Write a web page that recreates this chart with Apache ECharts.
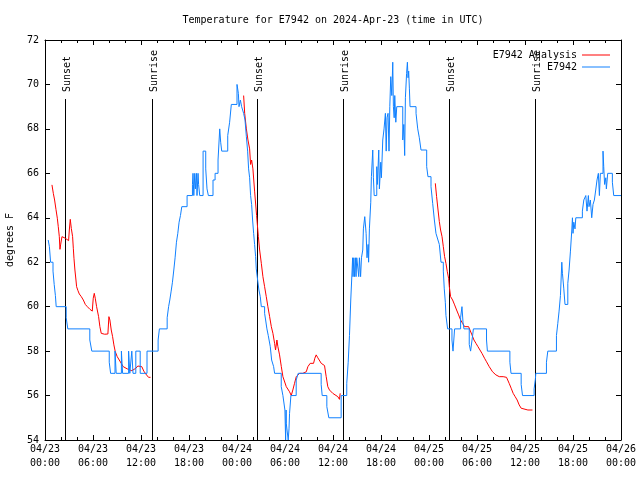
<!DOCTYPE html>
<html><head><meta charset="utf-8">
<script src="https://cdn.jsdelivr.net/npm/echarts@6/dist/echarts.min.js"></script>
<style>html,body{margin:0;padding:0;background:#fff}#c{width:640px;height:480px}</style>
</head><body><div id="c"></div>
<script>
const FONT = 'DejaVu Sans Mono';
const titleText = 'Temperature for E7942 on 2024-Apr-23 (time in UTC)';
const xTickLabels = ['04/23\n00:00','04/23\n06:00','04/23\n12:00','04/23\n18:00','04/24\n00:00','04/24\n06:00','04/24\n12:00','04/24\n18:00','04/25\n00:00','04/25\n06:00','04/25\n12:00','04/25\n18:00','04/26\n00:00'];
// hours since 04/23 00:00 UTC
const sunEventTimes = [2.53, 13.39, 26.5, 37.2, 50.45, 61.2];
const sunEventLabels = ['Sunset','Sunrise','Sunset','Sunrise','Sunset','Sunrise'];

// E7942 Analysis (red), [hour, degF]
const analysisDay1 = [[0.87,65.48],[1.04,65.1],[1.2,64.8],[1.37,64.38],[1.54,63.98],[1.66,63.6],[1.79,63.15],[1.87,62.58],[1.95,62.78],[2.12,63.15],[2.2,63.2],[2.37,63.15],[2.54,63.08],[2.79,63.0],[2.95,62.97],[3.04,63.45],[3.16,63.93],[3.29,63.52],[3.45,63.15],[3.54,62.63],[3.62,62.18],[3.74,61.65],[3.87,61.2],[3.95,60.9],[4.12,60.72],[4.29,60.57],[4.54,60.45],[4.79,60.3],[5.04,60.1],[5.29,60.0],[5.62,59.88],[5.91,59.8],[6.03,60.38],[6.16,60.6],[6.28,60.38],[6.45,60.0],[6.7,59.55],[6.86,59.1],[7.03,58.8],[7.2,58.73],[7.45,58.76],[7.86,58.77],[7.99,59.55],[8.11,59.4],[8.28,58.95],[8.45,58.65],[8.61,58.28],[8.78,57.98],[9.03,57.75],[9.28,57.6],[9.53,57.45],[9.78,57.3],[10.03,57.23],[10.28,57.2],[10.6,57.15],[10.86,57.12],[11.1,57.15],[11.36,57.23],[11.6,57.33],[11.85,57.42],[12.1,57.3],[12.35,57.1],[12.6,56.97],[12.77,56.88],[12.94,56.82],[13.19,56.82]];
const analysisDay2 = [[24.83,69.5],[24.96,68.7],[25.17,68.0],[25.37,67.5],[25.58,67.1],[25.7,66.4],[25.83,66.6],[25.99,66.2],[26.2,65.2],[26.45,64.1],[26.67,63.15],[26.83,62.55],[27.04,61.95],[27.24,61.35],[27.45,60.9],[27.66,60.45],[27.86,60.0],[28.08,59.55],[28.29,59.1],[28.49,58.8],[28.7,58.35],[28.82,58.05],[28.99,58.5],[29.11,58.2],[29.32,57.83],[29.54,57.3],[29.74,56.85],[30.16,56.4],[30.57,56.17],[30.78,56.0],[30.98,56.25],[31.19,56.55],[31.41,56.85],[31.61,56.9],[31.82,57.0],[32.23,57.0],[32.66,57.07],[32.86,57.3],[33.15,57.45],[33.57,57.45],[33.73,57.68],[33.9,57.83],[34.1,57.7],[34.53,57.45],[34.94,57.35],[35.15,56.85],[35.35,56.4],[35.56,56.25],[35.97,56.1],[36.6,55.95],[36.81,55.83],[36.9,56.1]];
const analysisDay3 = [[48.79,65.55],[48.95,64.95],[49.13,64.35],[49.29,63.83],[49.45,63.45],[49.63,63.15],[49.79,62.7],[49.95,62.25],[50.12,61.95],[50.29,61.57],[50.45,61.28],[50.54,60.9],[50.7,60.45],[50.95,60.3],[51.2,60.08],[51.45,59.85],[51.7,59.63],[51.95,59.4],[52.2,59.25],[52.45,59.1],[52.7,59.02],[52.95,59.1],[53.12,58.95],[53.37,58.73],[53.62,58.5],[53.87,58.35],[54.12,58.2],[54.37,58.05],[54.62,57.9],[54.94,57.68],[55.19,57.52],[55.53,57.3],[55.94,57.07],[56.36,56.93],[56.78,56.85],[57.27,56.85],[57.69,56.82],[57.87,56.78],[58.02,56.55],[58.27,56.33],[58.52,56.1],[58.77,55.95],[59.02,55.8],[59.27,55.58],[59.52,55.43],[59.77,55.4],[60.36,55.35],[60.93,55.35]];

// E7942 observations (blue), [hour, degF], value holds until next point
const observedDay1 = [[0.4,63],[0.55,62.7],[0.7,62],[1.0,61.6],[1.15,61.0],[1.3,60.5],[1.4,60],[2.65,59.5],[2.85,59],[5.6,58.5],[5.85,58],[8.03,57.5],[8.2,57],[8.75,58],[8.9,57],[9.55,58],[9.7,57],[10.45,58],[10.6,57],[10.85,58],[11.0,57],[11.35,58],[11.9,57],[12.75,58],[14.14,58.5],[14.3,59],[15.27,59.5],[15.45,60],[15.6,60.3],[15.77,60.7],[15.93,61.1],[16.1,61.65],[16.26,62.2],[16.43,62.9],[16.6,63.3],[16.76,63.8],[16.93,64.1],[17.1,64.5],[17.76,65],[18.43,65.5],[18.5,66],[18.6,65],[18.72,66],[18.8,65.3],[18.93,66],[19.0,65],[19.13,66],[19.2,65.5],[19.34,65],[19.76,67],[20.09,66.2],[20.25,65.3],[20.42,65],[21.0,65.7],[21.26,66],[21.63,66.6],[21.84,68],[21.96,67.4],[22.09,67],[22.84,67.7],[23.08,68.3],[23.29,69.1],[24.0,70],[24.17,69.6],[24.25,69],[24.42,69.3],[24.58,69],[24.83,68.7],[25.0,68.4],[25.17,67.65],[25.33,67],[25.45,66.2]];
const observedDay2 = [[25.58,65.8],[25.7,65],[25.83,64.6],[25.95,63.9],[26.08,63.3],[26.2,62.8],[26.33,62.25],[26.41,61.7],[26.58,61.2],[26.74,60.75],[26.91,60.45],[27.04,60],[27.45,59.7],[27.58,59.4],[27.74,59],[27.91,58.7],[28.16,58.2],[28.33,57.6],[28.58,57.3],[28.7,57],[29.53,56.4],[29.74,56],[29.99,55.35],[30.08,54],[30.14,55.35],[30.16,54.75],[30.4,54],[30.5,54.5],[30.57,55.2],[30.74,56],[31.4,56.7],[31.65,57],[34.52,56.5],[34.65,56],[35.23,55.5],[35.48,55],[37.02,56],[37.72,56.55],[37.9,57.5],[38.06,58.7],[38.22,60.3],[38.39,61.65],[38.45,62.2],[38.5,61.35],[38.6,62.2],[38.68,61.35],[38.8,62.2],[38.88,61.35],[38.97,62.2],[39.22,61.35],[39.3,62.2],[39.45,61.35],[39.56,62.2],[39.72,62.55],[39.8,63.5],[39.97,64.05],[40.14,63.3],[40.25,62.2],[40.39,62.8],[40.45,62.0],[40.55,63.5],[40.72,64.7],[40.8,65.85],[40.97,67.05],[41.05,65.8],[41.15,65.0],[41.47,66.3],[41.55,65.5],[41.72,67.05],[41.8,65.3],[41.97,66.5],[42.05,65.8],[42.22,67.5],[42.38,68],[42.55,68.7],[42.65,67.0],[42.75,68.5],[42.88,68.7],[43.0,67.0],[43.1,69.0],[43.22,70.35],[43.35,69.5],[43.47,71.0],[43.55,69.0],[43.65,68.5],[43.72,69.5],[43.85,68.3],[43.97,69.0],[44.72,67.5],[44.85,68.2],[44.96,66.8],[45.05,69.4],[45.2,70.5],[45.3,71.0],[45.38,70.3],[45.46,70.6],[45.55,69.8],[45.63,69.0],[46.38,68.7],[46.59,68.0],[46.79,67.6],[47.0,67.05],[47.71,66.3],[47.87,65.85],[48.25,65.4],[48.46,64.65],[48.67,63.9],[48.87,63.3],[49.12,63.0]];
const observedDay3 = [[49.29,62.8],[49.5,62.0],[49.79,61.6],[49.91,60.8],[50.04,60.2],[50.12,59.6],[50.33,59.0],[50.87,58.5],[51.0,58],[51.2,59],[51.95,59.5],[52.12,60],[52.25,59.3],[52.37,59],[53.03,58.3],[53.2,58],[53.45,58.7],[53.55,59],[55.19,58.5],[55.3,58],[58.11,57.5],[58.25,57],[59.52,56.5],[59.69,56],[61.14,56.3],[61.3,56.75],[61.35,57],[62.68,57.5],[62.85,58],[63.93,58.7],[64.1,59.25],[64.26,59.8],[64.43,60.5],[64.6,62.0],[64.68,61.5],[64.85,60.8],[65.0,60.1],[65.35,61.05],[65.51,61.65],[65.68,62.5],[65.85,63.45],[65.93,64],[66.0,63.3],[66.1,63.8],[66.25,63.5],[66.35,64],[67.17,64.3],[67.35,64.8],[67.6,65],[67.75,64.3],[67.92,65],[68.0,64.5],[68.17,64.8],[68.34,64],[68.5,64.6],[68.67,64.8],[68.84,65.25],[69.0,65.7],[69.17,66],[69.3,65],[69.42,66],[69.75,67],[69.84,66.3],[69.95,65.5],[70.1,65.8],[70.17,65.3],[70.34,66],[70.92,65.6],[71.09,65],[72,65]];

const RED = '#ff0000', BLUE = '#1080ff';
const txt = {fontFamily: FONT, fontSize: 10, color: '#000'};

function xAxisCfg(top) {
  return {
    type: 'value', min: 0, max: 72, interval: 6, position: top ? 'top' : 'bottom',
    axisLine: {show: true, onZero: false, lineStyle: {color: '#000', width: 1}},
    axisTick: {show: true, inside: true, length: 5, lineStyle: {color: '#000'}},
    minorTick: {show: true, splitNumber: 3, length: 3, lineStyle: {color: '#000'}},
    splitLine: {show: false},
    axisLabel: top ? {show: false} : Object.assign({formatter: v => xTickLabels[Math.round(v / 6)], margin: 2, lineHeight: 14}, txt)
  };
}
function yAxisCfg(right) {
  return {
    type: 'value', min: 54, max: 72, interval: 2, position: right ? 'right' : 'left',
    axisLine: {show: true, onZero: false, lineStyle: {color: '#000', width: 1}},
    axisTick: {show: true, inside: true, length: 5, lineStyle: {color: '#000'}},
    splitLine: {show: false},
    name: right ? '' : 'degrees F', nameLocation: 'middle', nameRotate: 90, nameGap: 30,
    nameTextStyle: txt,
    axisLabel: right ? {show: false} : Object.assign({margin: 6}, txt)
  };
}
function redSeries(d) {
  return {type: 'line', name: 'E7942 Analysis', data: d, symbol: 'none', animation: false,
    lineStyle: {color: RED, width: 1}, itemStyle: {color: RED}, z: 3};
}
const legendBase = {orient: 'vertical', right: 30, align: 'right', icon: 'rect', itemWidth: 28, itemHeight: 1,
  padding: 0, itemGap: 0, textStyle: txt, selectedMode: false};

const option = {
  backgroundColor: '#fff',
  animation: false,
  title: {text: titleText, left: 333, top: 15, textAlign: 'center', padding: 0,
    textStyle: {fontFamily: FONT, fontSize: 10, fontWeight: 'normal', color: '#000'}},
  legend: [
    Object.assign({data: ['E7942 Analysis'], top: 50}, legendBase),
    Object.assign({data: ['E7942'], top: 62}, legendBase)
  ],
  grid: {left: 45, right: 19, top: 40, bottom: 40, containLabel: false, outerBoundsMode: 'none'},
  xAxis: [xAxisCfg(false), xAxisCfg(true)],
  yAxis: [yAxisCfg(false), yAxisCfg(true)],
  series: [
    {type: 'custom', name: 'sun', data: sunEventTimes.map(t => [t, 54]), z: 1, silent: true,
      renderItem: function (params, api) {
        const p = api.coord([api.value(0), 54]);
        const cs = params.coordSys;
        const x = Math.round(p[0]) + 0.5;
        const topY = cs.y + 59;
        return {type: 'group', children: [
          {type: 'line', shape: {x1: x, y1: topY, x2: x, y2: cs.y + cs.height}, style: {stroke: '#000', lineWidth: 1}},
          {type: 'text', x: x + 1.5, y: topY - 7, rotation: Math.PI / 2,
            style: {text: sunEventLabels[params.dataIndex], font: '10px ' + FONT, fill: '#000', textAlign: 'left', textVerticalAlign: 'middle'}}
        ]};
      }},
    redSeries(analysisDay1), redSeries(analysisDay2), redSeries(analysisDay3),
    {type: 'line', name: 'E7942', data: observedDay1.concat(observedDay2, observedDay3), step: 'end',
      symbol: 'none', lineStyle: {color: BLUE, width: 1}, itemStyle: {color: BLUE}, z: 4}
  ]
};
const chart = echarts.init(document.getElementById('c'));
chart.setOption(option);
</script></body></html>
